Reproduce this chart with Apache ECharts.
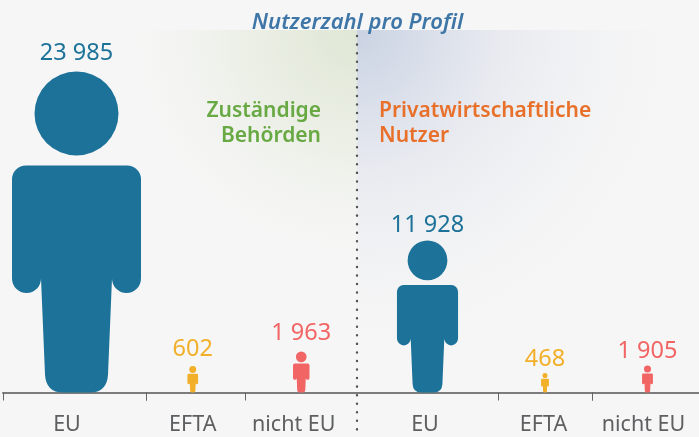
<!DOCTYPE html>
<html><head><meta charset="utf-8">
<script src="https://cdn.jsdelivr.net/npm/echarts@6/dist/echarts.min.js"></script>
<style>html,body{margin:0;padding:0;background:#f6f6f6}#c{width:699px;height:437px}</style>
</head><body><div id="c"></div>
<script>
const categories = ['EU','EFTA','nicht EU','EU','EFTA','nicht EU'];
const userCounts = [23985,602,1963,11928,468,1905];
const figureHeights = [321,26.5,41,152,19.5,27];
const categoryColors = ['#1d7299','#f2b02a','#f26565','#1d7299','#f2b02a','#f26565'];
const titleText = 'Nutzerzahl pro Profil';
const leftGroup = 'Zuständige\nBehörden';
const rightGroup = 'Privatwirtschaftliche\nNutzer';

const FONT = '"Noto Sans", sans-serif';
const bands = [[3,146],[146,245.5],[245.5,357],[357,498],[498,592],[592,704]];
const showTick = [true,true,false,false,true,true];
const figOffset = [2,-3,0,0,0,2];
const labelShift = [15,6,15,5,3,4];
const labelGap = [6,5,6,3,2,2];
const AXIS_Y = 392.5, TOP = 30, W_RATIO = 129/321;
const person = 'path://M64.5 0A42 42 0 1 1 64.5 84A42 42 0 1 1 64.5 0ZM14 94H115A14 14 0 0 1 129 108V207A14.5 14.5 0 0 1 100 207L96 303Q95 321 78 321H51Q34 321 33 303L29 207A14.5 14.5 0 0 1 0 207V108A14 14 0 0 1 14 94Z';
const fmt = v => String(v).replace(/\B(?=(\d{3})+$)/g,' ');

const chart = echarts.init(document.getElementById('c'),null,{renderer:'canvas'});
const G = echarts.graphic;
chart.setOption({
  backgroundColor:'#f6f6f6',
  animation:false,
  graphic:[
    {type:'rect',z:-10,shape:{x:90,y:TOP,width:267,height:300},
     style:{fill:new G.RadialGradient(357,TOP,250,[{offset:0,color:'#dfe7d5'},{offset:0.5,color:'#edf0e8'},{offset:1,color:'rgba(246,246,246,0)'}],true)}},
    {type:'rect',z:-10,shape:{x:357,y:TOP,width:342,height:350},
     style:{fill:new G.RadialGradient(357,TOP,350,[{offset:0,color:'#cad3e3'},{offset:0.4,color:'#e8eaf0'},{offset:1,color:'rgba(246,246,246,0)'}],true)}},
    {type:'line',z:5,shape:{x1:357,y1:36,x2:357,y2:437},
     style:{stroke:'#555',lineWidth:2.4,lineCap:'round',lineDash:[0.1,8.45]}},
    {type:'text',z:6,style:{x:357.5,y:23,text:titleText,align:'center',verticalAlign:'middle',fill:'#3f76a8',font:'italic 600 22px '+FONT}},
    {type:'text',z:6,style:{x:321,y:123.5,text:leftGroup,align:'right',verticalAlign:'middle',fill:'#68a944',lineHeight:25,font:'600 21px '+FONT}},
    {type:'text',z:6,style:{x:379,y:123.5,text:rightGroup,align:'left',verticalAlign:'middle',fill:'#e8702a',lineHeight:25,font:'600 21px '+FONT}}
  ],
  grid:bands.map(b=>({left:b[0],width:b[1]-b[0],top:TOP,height:AXIS_Y-TOP})),
  xAxis:categories.map((c,i)=>({
    type:'category',gridIndex:i,data:[c],
    axisLine:{lineStyle:{color:'#7c7c7c',width:2}},
    axisTick:{show:showTick[i],length:8,lineStyle:{color:'#666',width:1}},
    axisLabel:{color:'#5e5f61',fontFamily:FONT,fontSize:21.5,fontWeight:400,margin:21,padding:[0,labelShift[i],0,0],interval:0}
  })),
  yAxis:categories.map((c,i)=>({type:'value',gridIndex:i,min:0,max:AXIS_Y-TOP,show:false})),
  series:categories.map((c,i)=>({
    type:'pictorialBar',xAxisIndex:i,yAxisIndex:i,z:4,
    symbol:person,symbolPosition:'start',symbolRepeat:false,
    symbolOffset:[figOffset[i],0],
    barCategoryGap:0,
    itemStyle:{color:categoryColors[i]},
    label:{show:true,position:'top',distance:labelGap[i],offset:[figOffset[i],0],
      formatter:()=>fmt(userCounts[i]),color:categoryColors[i],fontFamily:FONT,fontSize:23.5,fontWeight:400},
    data:[{value:figureHeights[i],symbolSize:[figureHeights[i]*W_RATIO,'100%']}]
  }))
});
</script></body></html>
